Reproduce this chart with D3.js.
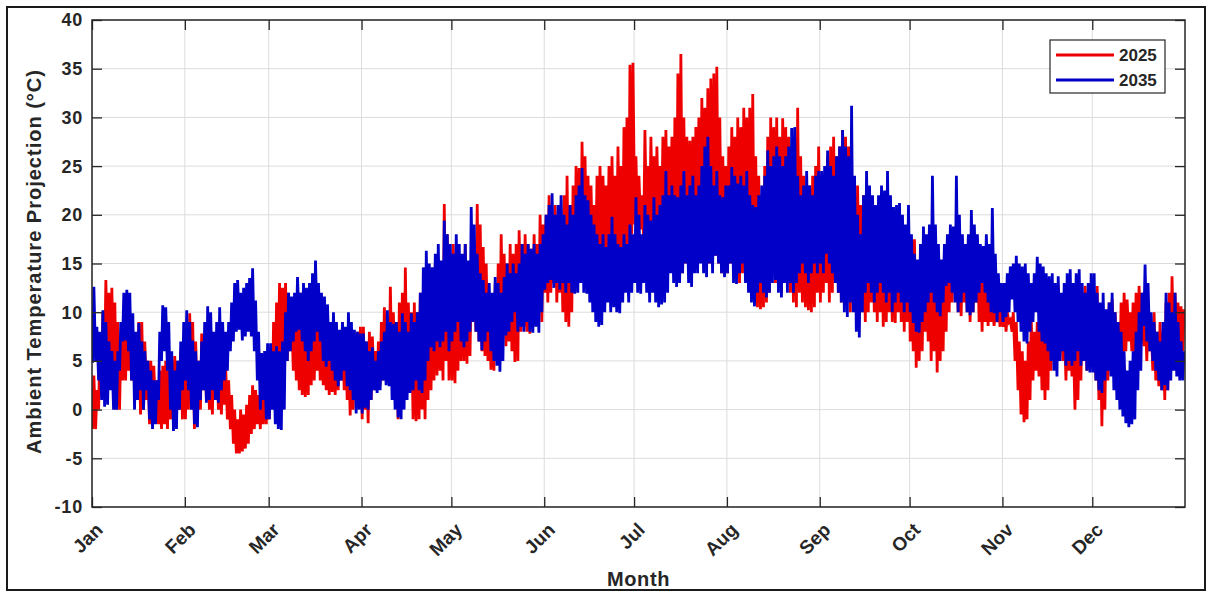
<!DOCTYPE html>
<html>
<head>
<meta charset="utf-8">
<script src="https://cdn.jsdelivr.net/npm/d3@7"></script>
<style>
  body { margin: 0; background: #ffffff; }
  text { font-family: "Liberation Sans", Arial, Helvetica, sans-serif; font-weight: bold; fill: #262626; }
</style>
</head>
<body>
<svg id="chart" width="1212" height="592"></svg>
<script>
// ---- data ---------------------------------------------------------------
const monthLabels = ["Jan","Feb","Mar","Apr","May","Jun","Jul","Aug","Sep","Oct","Nov","Dec"];
const yTickValues = [-10,-5,0,5,10,15,20,25,30,35,40];
const seriesNames = ["2025","2035"];
const seriesColors = ["#ee0000","#0000c8"];

// Daily minimum / maximum of the hourly ambient temperature projection (°C),
// one row per month, Jan 1 .. Dec 31.
const low2025 = [
  -2,-2,0,2,4,5,4,3,0,0,3,3,4,3,2,3,-0.5,0,1,-1.5,-1,0,-1.5,-2,-1.5,-2,-1,-1.5,-1,0,-1,
  -1,0,1,-2,-1,0,2,1,0,-0.5,1,0,-0.5,0.5,-1,-2,-3.5,-4.5,-4.5,-4.3,-4,-3.5,-2.5,-2,-1.5,-2,-1.5,-1.5,
  -1,1,3,5,5,4,5,6,4,3,2,1.5,1.3,1.5,2.5,3,4,3,2.5,2,1.5,1.8,1.5,2,3,2,1,-0.6,0,1,0.5,
  -1,0,-1.4,1,2,2,2.5,3,4,3,2.5,2,-1,0,1,2,3,-1,-1.2,-1,0,-1,1,2,3,3.5,4,3,5,3,
  3,2.7,4,5,5,4.7,5.5,9,8,7,6,5.5,5,4.1,4,5,7,8,6.5,7,6,4.9,5,8,8.5,8,7.8,8.5,9,10,9,
  12,11,12,13,11,12,10,9,8.5,10,12,14,13,15,14,13,14,15,14,13,15,16,14,15,16,15,16,17,16,18,
  19,18,18.5,17.4,18,19,18,17.4,18,19,18,17,18,16,16.7,15,14,15,16,17,17.4,16,15.8,17,16,15,16,15.8,15,14,15,
  14,15,16,14,13,14,15,13,12.6,11,10.5,10.3,10.5,11,12,14,13,12.6,12,14,13,12,11,10.5,12,11,10.5,10.2,10,10.5,12,
  11,12,13,11,12,13,12,11,13,12,10,11,12,11,10,9,10,11,10,9,10,8.5,9,10,9,8.9,10,9,8,9,
  7,6,4.3,5,6,8,7,5,6,3.8,5,6,8,10,11,12,10,9.6,11,10,9,10,11,9,8,9,8.6,9,8.6,9,8.5,
  8.5,8,9,8,5,2,-0.5,-1.3,-1,1,3,4,3.4,2,1,2,4,6,5,6.5,5,3,4,3.4,0,1,3,5,4,6,
  5,3,1,-1.7,0,3,5,6,5,4,5,6,7,6,5,6,7,6.5,5,6,4,3,2.4,2,1,2,4,5,4,6,6
];
const high2025 = [
  3.5,2,6,10,13.3,12,12.5,11,9,7,9.5,8,9,8,6,9,9,7,5,5,4.5,3,4,4.5,5,4,5,5.5,5,6,7,
  8,9.9,9,7,5,7.8,7,6,5,7,6,5.5,4,4.5,3,1.5,0,-1,0,-0.5,0.5,1.5,2.5,2,1.5,3,4,5,
  5,9,11,13,12.5,13,12,11,10,9,12,11.5,10,12.6,10,9,10,8.5,9,9.5,8,9,8.5,8,9,8.2,7,6.5,7,8,8.5,
  8.5,7,8,7.5,6,7,9,10.5,9,12.6,10,9,11,12,14.6,11,10,11,10,12,11,10,12,13,15,14,13,21.1,18,15,
  17,15,16,15,17,14,13,16,21.1,19,16.7,15,12,11,13,15,18,16,15,17,16,17,18.4,17,18,17,16.5,18,17,20,19,
  20,22,19,21,18,20,22,24,21,23,25,24.8,27.5,26,24,23,21,24,25,24,23,25,26,24,27,25,29,30,35.4,35.6,
  26,24,22,28.7,25,28,26,27,25,28,28.7,27,28,30,34.5,36.5,30,28,27.6,28,29,30,32,31,33,34,34.5,35.2,30,26,25,
  27,29,28,30,29,31,30,31,32.4,26,24,22,25,28,30,29,30,28,29.9,29,28,27,28,31,26,24,22,23,24,25,27,
  22,24,26,27,28,26,27,28.7,28,27,24,22,23,21,22,20,21,20,19,21,20,19,18.7,20,19,18,20,19,18,19,
  16,17.5,15,16,14,15,16,14,15.6,13,14,16,17,17.8,16,17,17.5,16,17,17.8,16,17,17.5,16,15,14,12,11,10.3,11,12,
  11,10,9.2,10,9,7,6,5,7,9.2,8,9,9.2,10,12.7,12,11,10,12.7,11,9.2,9,10,8,7,8,11,12.7,12,11,
  11,12.7,10,8,9,11,11.3,10,9,11,12,11.3,10,11,12,12.7,12,11,10,9,10,8,9,8,11,12,13.7,12,11,10.6,10.3
];
const low2035 = [
  4.8,5,3,1,0.3,0.5,2,0,0,4,7,7.1,6,3,0,1,2,0,2,-1,-2,-1.5,1,5,6,4,0,-2.2,-2,0,2,
  3,2,0,-1.5,-1.8,1,2,0.7,1,2,1,0.7,2,3,4,6,7,8,8.2,7.1,7.5,8,7.5,6,3,0,1,-1,
  -1,0,-1.5,-2,-2.1,0,5,6,7,8,8.2,7,6,5,6,7,8,7,5,4.4,5,4,3,2.4,3,4,2.4,2,1,-0.4,0,
  -0.4,0.2,0,1,2,1.7,2,3,2.5,2.4,1,0,-0.8,-1,0,1,1.7,2,3,2,1.7,3,5,6.4,6,7,6.4,7,8,6,
  7,8,9,7,6.4,7,8,9,8,7,6.1,7,8,6,5,4.5,3.9,5,7.6,8,9,10,8,8.5,8,9,8,7.9,8.5,7.9,10,
  12.3,13,13.3,12.5,13,12.3,13,12,13,12,11.9,12,13,12,11.9,11,10,9,8.5,8.7,10,11,10,10.5,10,9.9,11,12,11,12,
  13,12,11.9,13,12,11,12,11,10.5,10.8,11,12,14,13,12.6,13,14,15,13,12.6,14,14,15,14,13.6,15,14,15.8,15,14,13.6,
  14,15,13,12.9,14,15,13,12,11,10.6,12,13,12,11.5,12,13,13.3,12,11.5,13,12,13,12,13,14,15,14,13,14,15,14,
  15,14,16,15,14,13,12,11,10,9.5,11,10,8,7.4,10,12,13,12,11,12,13,12,11,12,10,11,12,11,10,11,
  10,8.9,8,7.9,9,10,11,12,11,10,9.6,11,12.7,13,12,11,10,11,12,10,9.7,10,11,12,13,12,11,10,9.9,9,10,
  9,9.5,10,11.3,10,9,8,7,6.8,8,9,10,8,7,6.8,6,5,4,3.4,5,6,4.5,5,4.5,5,6,4.5,5,4,3.8,
  3.8,3,2,1.7,3,4,3.4,2,1,0,-0.7,-1.4,-1.8,-1.5,-1,2,4,8.6,7,6,5,4,3,2,2.5,2,3,4,3.4,3,3
];
const high2035 = [
  12.6,8.5,8,10.2,9,7,6,5,6,9,12,12.3,12,9.9,8,8.9,7,6,5,4,3,3,8,10.7,10.5,9,6,4,5,7,9,
  10.2,9,7.1,6,5,7,9,10.6,10,8,9,10.5,9,8,9,11,13,13.3,12,12.5,13,13.5,14.5,11.2,8,5.8,6,6.8,
  6.8,6,6.5,6,7,10,12,11.6,12,13.6,12,13,12.5,13,14,15.3,13,12,11.6,10.8,9,10,9,8.2,9,8.5,10,9,8.2,8,7.8,
  7.8,7,6,6.4,5,6,7,8,10.2,9,8.8,9,8,9.9,9,8,9.9,9,10,12,14.6,16.3,15,14.6,16,17,15.3,19.4,18,17,
  16,18,17,16,17,15.3,20.8,19,16,14,13.3,12,13,12,13.6,13,12,13.6,15,14,15,14,15,17,16,17,16.5,17,16,17,18,
  20,21,22.2,20,21,22,20,19,21,20,22,23,24.8,22,21.5,20,19,18,17,18,16.7,18,19.8,18,17,16.7,18,17,19,18,
  21.8,20,18,21,20,19.4,21.8,20,21,22,24.5,22,23,22,21.8,23,24.5,22,23,24,22,23,25,27,28,25,23,24.5,22,21.8,23,
  23,24.9,24,23.2,24,23,24.5,22,21,20.8,22,23,24,26.6,25,26,27,26,25,26,27,28.9,29,24,22,23,24.5,23,22,24,24.5,
  24.5,25,26.6,25,24,26,27,28.7,27,26,31.2,24,20,18,22,24.5,23,22,21,22,23,22.5,24.5,22,20.8,21,21.2,20,19,21,
  18,16,15.4,17,18.8,18,19,24,19,17,15.4,17,18,19,18.8,24,20,18,17,18,20.5,19,18,17,16.8,18,17,20.7,16,14,13,
  13,14,14.7,15,15.8,15,14.7,15,14,13,14,15.7,15,14.7,14,13.7,14,13,13.7,12,13,14,14.4,13,14,14.4,13,12,13,14,
  14,12,11,12,10.3,11,12,10,9,8,6,4,5,6,8,10,12,14.9,13,10,9,8,7,9,12,11,10,12,9,7,6
];

// ---- layout -------------------------------------------------------------
const svg = d3.select("#chart");
const plot = { left: 92, right: 1185, top: 20, bottom: 507 };
const axisColor = "#262626";
const gridColor = "#dcdcdc";

// outer frame around the figure
svg.append("rect")
  .attr("x", 7).attr("y", 7).attr("width", 1198).attr("height", 583)
  .attr("fill", "#ffffff").attr("stroke", "#1a1a1a").attr("stroke-width", 2);

const year = 2025;
const x = d3.scaleTime()
  .domain([new Date(year, 0, 1, 0), new Date(year, 11, 31, 23)])
  .range([plot.left, plot.right]);
const y = d3.scaleLinear().domain([-10, 40]).range([plot.bottom, plot.top]);

const monthStarts = monthLabels.map((m, i) => new Date(year, i, 1));

// grid
const grid = svg.append("g");
grid.selectAll("line.gx").data(monthStarts).join("line")
  .attr("x1", d => x(d)).attr("x2", d => x(d))
  .attr("y1", plot.top).attr("y2", plot.bottom)
  .attr("stroke", gridColor).attr("stroke-width", 1);
grid.selectAll("line.gy").data(yTickValues).join("line")
  .attr("x1", plot.left).attr("x2", plot.right)
  .attr("y1", d => y(d)).attr("y2", d => y(d))
  .attr("stroke", gridColor).attr("stroke-width", 1);

// series: each day goes from its early-morning low to its afternoon high
function dailyPoints(lows, highs) {
  const pts = [];
  lows.forEach((lo, i) => {
    pts.push({ t: new Date(year, 0, 1 + i, 5), v: lo });
    pts.push({ t: new Date(year, 0, 1 + i, 15), v: highs[i] });
  });
  return pts;
}
const series = [
  { name: seriesNames[0], color: seriesColors[0], points: dailyPoints(low2025, high2025) },
  { name: seriesNames[1], color: seriesColors[1], points: dailyPoints(low2035, high2035) }
];

svg.append("clipPath").attr("id", "plotClip")
  .append("rect")
  .attr("x", plot.left).attr("y", plot.top)
  .attr("width", plot.right - plot.left).attr("height", plot.bottom - plot.top);

const line = d3.line().x(d => x(d.t)).y(d => y(d.v));
svg.append("g").attr("clip-path", "url(#plotClip)")
  .selectAll("path").data(series).join("path")
  .attr("d", d => line(d.points))
  .attr("fill", "none")
  .attr("stroke", d => d.color)
  .attr("stroke-width", 2.8)
  .attr("stroke-linejoin", "miter");

// axes box with inward ticks on all four sides
const tickLen = 10;
const axes = svg.append("g");
axes.append("g").attr("transform", `translate(0,${plot.bottom})`)
  .call(d3.axisBottom(x).tickValues(monthStarts).tickSize(-tickLen).tickFormat(""));
axes.append("g").attr("transform", `translate(0,${plot.top})`)
  .call(d3.axisTop(x).tickValues(monthStarts).tickSize(-tickLen).tickFormat(""));
axes.append("g").attr("transform", `translate(${plot.left},0)`)
  .call(d3.axisLeft(y).tickValues(yTickValues).tickSize(-tickLen).tickFormat(""));
axes.append("g").attr("transform", `translate(${plot.right},0)`)
  .call(d3.axisRight(y).tickValues(yTickValues).tickSize(-tickLen).tickFormat(""));
axes.selectAll(".domain").remove();
axes.selectAll("line").attr("stroke", axisColor).attr("stroke-width", 1.3);
axes.append("rect")
  .attr("x", plot.left).attr("y", plot.top)
  .attr("width", plot.right - plot.left).attr("height", plot.bottom - plot.top)
  .attr("fill", "none").attr("stroke", axisColor).attr("stroke-width", 1.5);

// tick labels
svg.append("g").selectAll("text").data(yTickValues).join("text")
  .attr("x", plot.left - 9).attr("y", d => y(d)).attr("dy", "0.36em")
  .attr("text-anchor", "end").attr("font-size", 18).attr("letter-spacing", 0.8)
  .text(d => d);

svg.append("g").selectAll("text").data(monthStarts).join("text")
  .attr("transform", d => `translate(${x(d) + 12},${plot.bottom + 24}) rotate(-45)`)
  .attr("text-anchor", "end").attr("font-size", 19)
  .text((d, i) => monthLabels[i]);

// axis titles
svg.append("text")
  .attr("x", (plot.left + plot.right) / 2).attr("y", 586)
  .attr("text-anchor", "middle").attr("font-size", 20).attr("letter-spacing", 0.6)
  .text("Month");
svg.append("text")
  .attr("transform", `translate(41,${(plot.top + plot.bottom) / 2 - 2}) rotate(-90)`)
  .attr("text-anchor", "middle").attr("font-size", 20).attr("letter-spacing", 1)
  .text("Ambient Temperature Projection (°C)");

// legend
const legend = svg.append("g").attr("transform", "translate(1050,40)");
legend.append("rect").attr("width", 115).attr("height", 53)
  .attr("fill", "#ffffff").attr("stroke", axisColor).attr("stroke-width", 1.2);
series.forEach((s, i) => {
  const ly = 15 + i * 25;
  legend.append("line")
    .attr("x1", 6).attr("x2", 64).attr("y1", ly).attr("y2", ly)
    .attr("stroke", s.color).attr("stroke-width", 2.8);
  legend.append("text")
    .attr("x", 69).attr("y", ly).attr("dy", "0.36em")
    .attr("font-size", 17).attr("fill", "#000")
    .text(s.name);
});
</script>
</body>
</html>
